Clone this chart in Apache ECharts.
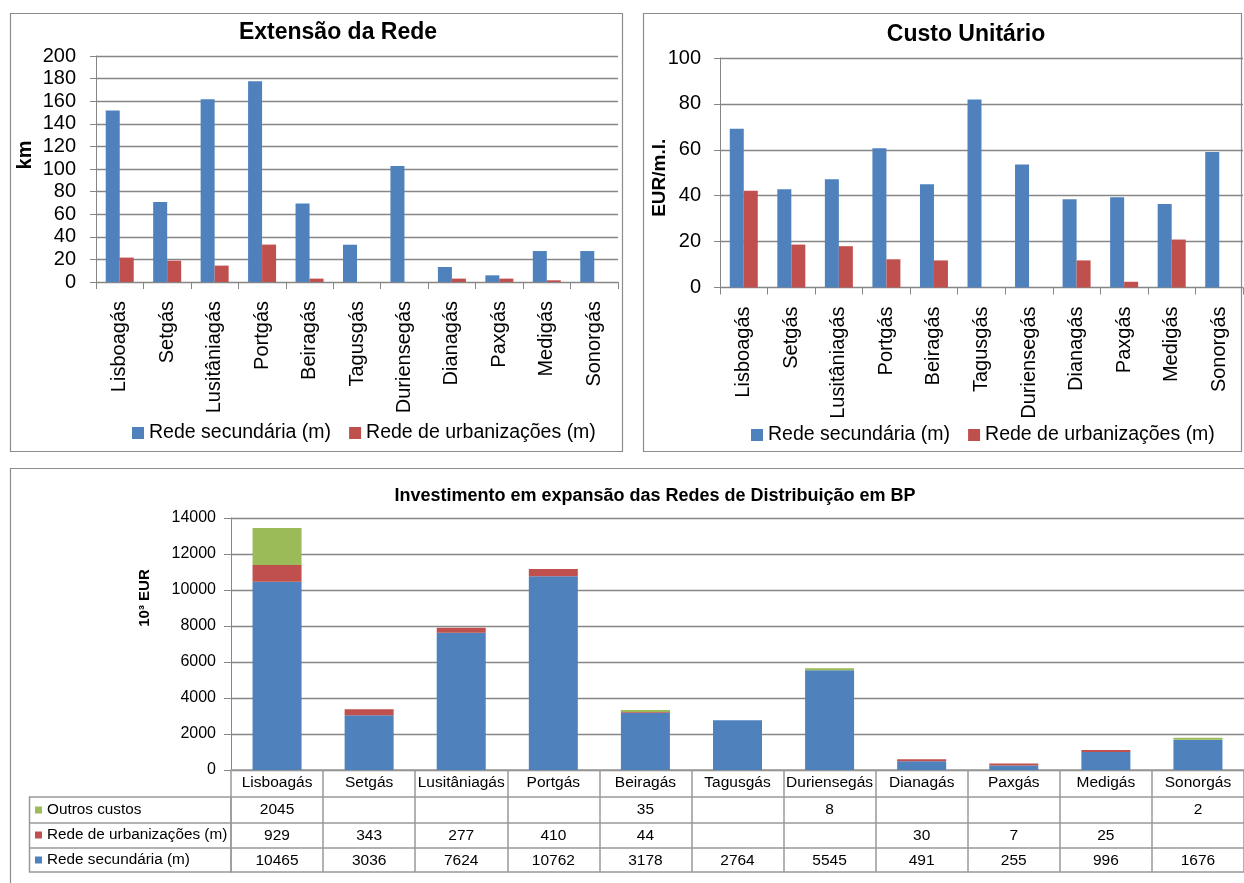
<!DOCTYPE html>
<html>
<head>
<meta charset="utf-8">
<script src="https://cdn.jsdelivr.net/npm/echarts@6/dist/echarts.min.js"></script>
<style>
html,body{margin:0;padding:0;background:#fff;}
#c{width:1244px;height:883px;}
</style>
</head>
<body>
<div id="c"></div>
<script>
const categories = ['Lisboagás','Setgás','Lusitâniagás','Portgás','Beiragás','Tagusgás','Duriensegás','Dianagás','Paxgás','Medigás','Sonorgás'];
const seriesNames = ['Rede secundária (m)','Rede de urbanizações (m)','Outros custos'];

// Extensão da Rede (km)
const extSecundaria = [151.7, 70.8, 161.7, 177.6, 69.4, 33, 102.6, 13.3, 5.9, 27.4, 27.4];
const extUrbanizacoes = [21.6, 18.9, 14.5, 33.1, 3, null, null, 3, 3, 1.5, null];

// Custo Unitário (EUR/m.l.)
const custoSecundaria = [69.2, 42.8, 47.2, 60.7, 45, 81.9, 53.6, 38.5, 39.3, 36.4, 59];
const custoUrbanizacoes = [42.2, 18.7, 18, 12.3, 11.8, null, null, 11.8, 2.5, 20.9, null];

// Investimento (10^3 EUR)
const invSecundaria = [10465, 3036, 7624, 10762, 3178, 2764, 5545, 491, 255, 996, 1676];
const invUrbanizacoes = [929, 343, 277, 410, 44, null, null, 30, 7, 25, null];
const invOutros = [2045, null, null, null, 35, null, 8, null, null, null, 2];

const titles = ['Extensão da Rede','Custo Unitário','Investimento em expansão das Redes de Distribuição em BP'];
const yNames = ['km','EUR/m.l.','10³ EUR'];

const BLUE = '#4F81BD', RED = '#C0504D', GREEN = '#9BBB59';
const GRID = '#868686';
const FONT = "Arial, 'Liberation Sans', sans-serif";

const chart = echarts.init(document.getElementById('c'));

function topX(gi){
  return {
    type:'category', gridIndex:gi, data:categories,
    axisLine:{show:true, lineStyle:{color:GRID, width:1}},
    axisTick:{show:true, interval:0, length:7, lineStyle:{color:GRID}},
    axisLabel:{interval:0, rotate:90, fontSize:20, color:'#000', fontFamily:FONT, margin:19}
  };
}
function valY(gi, max, interval, name, fs, nameFs, gap, margin, tick, namePad){
  return {
    type:'value', gridIndex:gi, min:0, max:max, interval:interval,
    name:name, nameLocation:'middle', nameRotate:90, nameGap:gap, nameMoveOverlap:false,
    nameTextStyle:{fontSize:nameFs, fontWeight:'bold', color:'#000', fontFamily:FONT, padding:namePad},
    axisLine:{show:true, lineStyle:{color:GRID}},
    axisTick:{show:true, length:tick, lineStyle:{color:GRID}},
    axisLabel:{fontSize:fs, color:'#000', fontFamily:FONT, margin:margin,
      formatter:function(v){ return String(v); }},
    splitLine:{show:true, lineStyle:{color:GRID, width:1.3}}
  };
}
function tableAxis(offset, arr, showLabel, tickLen){
  return {
    type:'category', gridIndex:2, data:categories, position:'bottom', offset:offset,
    axisLine:{show:true, lineStyle:{color:'#999', width:1.5}},
    axisTick:{show:tickLen>0, interval:0, length:tickLen, lineStyle:{color:'#999', width:1.5}},
    axisLabel:{show:showLabel, interval:0, fontSize:15.5, color:'#000', fontFamily:FONT,
      margin:13, verticalAlign:'middle',
      formatter:function(v, i){ if(!arr) return v; return arr[i]==null ? '' : String(arr[i]); }}
  };
}

const option = {
  animation:false,
  backgroundColor:'#fff',
  textStyle:{fontFamily:FONT},
  title:[
    {text:titles[0], left:338, top:20, textAlign:'center', padding:0,
     textStyle:{fontSize:23, fontWeight:'bold', color:'#000', fontFamily:FONT, lineHeight:26}},
    {text:titles[1], left:966, top:22, textAlign:'center', padding:0,
     textStyle:{fontSize:23, fontWeight:'bold', color:'#000', fontFamily:FONT, lineHeight:26}},
    {text:titles[2], left:655, top:485, textAlign:'center', padding:0,
     textStyle:{fontSize:18, fontWeight:'bold', color:'#000', fontFamily:FONT, lineHeight:22}}
  ],
  legend:[
    {data:[seriesNames[0], seriesNames[1]], left:132, top:422, padding:0, itemGap:18,
     itemWidth:12, itemHeight:12, icon:'rect',
     textStyle:{fontSize:19.5, color:'#000', fontFamily:FONT, lineHeight:22}},
    {data:[seriesNames[0], seriesNames[1]], left:751, top:424, padding:0, itemGap:18,
     itemWidth:12, itemHeight:12, icon:'rect',
     textStyle:{fontSize:19.5, color:'#000', fontFamily:FONT, lineHeight:22}},
    {data:[seriesNames[2]], left:35, top:802, padding:0, itemWidth:7, itemHeight:7, icon:'rect',
     textStyle:{fontSize:15.3, color:'#000', fontFamily:FONT, lineHeight:16}},
    {data:[seriesNames[1]], left:35, top:827, padding:0, itemWidth:7, itemHeight:7, icon:'rect',
     textStyle:{fontSize:15.3, color:'#000', fontFamily:FONT, lineHeight:16}},
    {data:[seriesNames[0]], left:35, top:852, padding:0, itemWidth:7, itemHeight:7, icon:'rect',
     textStyle:{fontSize:15.3, color:'#000', fontFamily:FONT, lineHeight:16}}
  ],
  grid:[
    {left:96, right:1244-618, top:56, bottom:883-282, containLabel:false},
    {left:720, right:1, top:58, bottom:883-287.5, containLabel:false},
    {left:231, right:-7, top:518, bottom:883-770, containLabel:false}
  ],
  xAxis:[
    topX(0),
    topX(1),
    tableAxis(0, null, true, 27),
    tableAxis(27, invOutros, true, 26),
    tableAxis(53, invUrbanizacoes, true, 25),
    tableAxis(78, invSecundaria, true, 24),
    tableAxis(102, null, false, 0)
  ],
  yAxis:[
    valY(0, 200, 20, yNames[0], 20, 20, 61, 20, 6, [0,0,0,28]),
    valY(1, 100, 20, yNames[1], 20, 19, 51, 19, 6, [0,10,0,0]),
    valY(2, 14000, 2000, yNames[2], 16, 15, 79, 15, 7, [0,0,0,92])
  ],
  graphic:[
    {type:'rect', shape:{x:10.5, y:13.5, width:612, height:438}, style:{fill:null, stroke:'#8c8c8c', lineWidth:1.2}, silent:true, z:-1},
    {type:'rect', shape:{x:643.5, y:13.5, width:598, height:438}, style:{fill:null, stroke:'#8c8c8c', lineWidth:1.2}, silent:true, z:-1},
    {type:'rect', shape:{x:10.5, y:468.5, width:1250, height:440}, style:{fill:null, stroke:'#8c8c8c', lineWidth:1.2}, silent:true, z:-1},
    {type:'rect', shape:{x:29.5, y:797, width:201.5, height:75}, style:{fill:null, stroke:'#999', lineWidth:1.5}, silent:true},
    {type:'line', shape:{x1:29.5, y1:823, x2:231, y2:823}, style:{stroke:'#999', lineWidth:1.5}, silent:true},
    {type:'line', shape:{x1:29.5, y1:848, x2:231, y2:848}, style:{stroke:'#999', lineWidth:1.5}, silent:true}
  ],
  series:[
    {name:seriesNames[0], type:'bar', xAxisIndex:0, yAxisIndex:0, data:extSecundaria, barWidth:14, barGap:'0%', itemStyle:{color:BLUE}},
    {name:seriesNames[1], type:'bar', xAxisIndex:0, yAxisIndex:0, data:extUrbanizacoes, barWidth:14, barGap:'0%', itemStyle:{color:RED}},
    {name:seriesNames[0], type:'bar', xAxisIndex:1, yAxisIndex:1, data:custoSecundaria, barWidth:14, barGap:'0%', itemStyle:{color:BLUE}},
    {name:seriesNames[1], type:'bar', xAxisIndex:1, yAxisIndex:1, data:custoUrbanizacoes, barWidth:14, barGap:'0%', itemStyle:{color:RED}},
    {name:seriesNames[0], type:'bar', xAxisIndex:2, yAxisIndex:2, stack:'inv', data:invSecundaria, barWidth:49, itemStyle:{color:BLUE}},
    {name:seriesNames[1], type:'bar', xAxisIndex:2, yAxisIndex:2, stack:'inv', data:invUrbanizacoes, barWidth:49, barMinHeight:2, itemStyle:{color:RED}},
    {name:seriesNames[2], type:'bar', xAxisIndex:2, yAxisIndex:2, stack:'inv', data:invOutros, barWidth:49, barMinHeight:2, itemStyle:{color:GREEN}}
  ]
};
chart.setOption(option);
</script>
</body>
</html>
